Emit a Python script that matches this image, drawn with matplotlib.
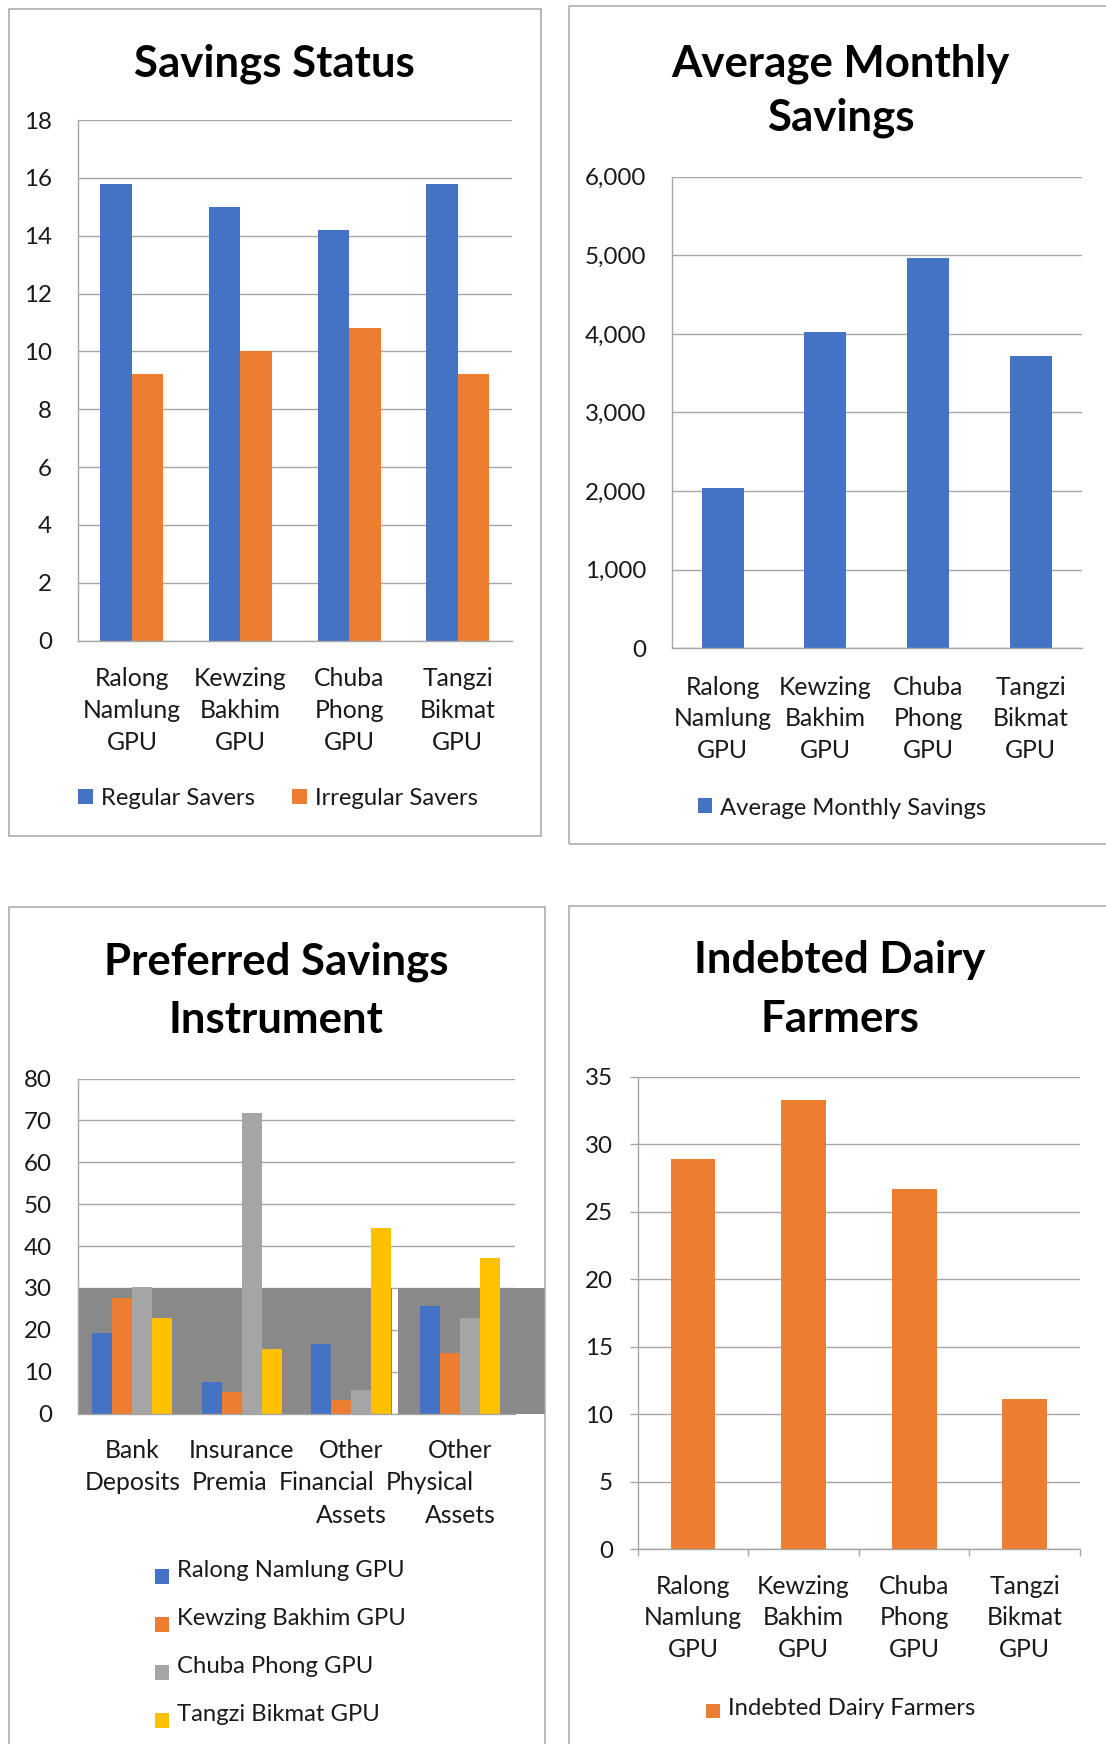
import matplotlib
matplotlib.use("Agg")
import matplotlib.pyplot as plt
from matplotlib.patches import Rectangle
from matplotlib.ticker import MultipleLocator, FuncFormatter

plt.rcParams['font.family'] = ['Lato', 'DejaVu Sans']

# ---- data -------------------------------------------------------------
gpus = ["Ralong\nNamlung\nGPU", "Kewzing\nBakhim\nGPU",
        "Chuba\nPhong\nGPU", "Tangzi\nBikmat\nGPU"]

regular_savers = [15.8, 15.0, 14.2, 15.8]
irregular_savers = [9.2, 10.0, 10.8, 9.2]

avg_monthly_savings = [2040, 4030, 4970, 3720]

instruments = ["Bank\nDeposits", "Insurance\nPremia",
               "Other\nFinancial\nAssets", "Other\nPhysical\nAssets"]
instrument_series = ["Ralong Namlung GPU", "Kewzing Bakhim GPU",
                     "Chuba Phong GPU", "Tangzi Bikmat GPU"]
ralong_pref = [19.3, 7.6, 16.6, 25.7]
kewzing_pref = [27.7, 5.1, 3.3, 14.5]
chuba_pref = [30.1, 71.8, 5.6, 22.9]
tangzi_pref = [22.9, 15.3, 44.3, 37.1]

indebted_farmers = [28.9, 33.3, 26.7, 11.1]

# ---- styling ----------------------------------------------------------
W, H, DPI = 1106, 1744, 100
BLUE, ORANGE, GREY, YELLOW = "#4472C4", "#ED7D31", "#A5A5A5", "#FFC000"
GRID = "#A6A6A6"
FRAME = "#A6A6A6"
TEXT = "#1A1A1A"
TITLE_FS = 31.5
TICK_FS = 17.4
LABEL_FS = 17.8
LEG_FS = 17.2

fig = plt.figure(figsize=(W / DPI, H / DPI), dpi=DPI)
fig.patch.set_facecolor("white")


def box(left, top, right, bottom):
    return [left / W, 1 - bottom / H, (right - left) / W, (bottom - top) / H]


def px(x, y):
    return x / W, 1 - y / H


def frame(left, top, right, bottom):
    fig.add_artist(Rectangle(px(left, bottom), (right - left) / W, (bottom - top) / H,
                             transform=fig.transFigure, fill=False,
                             ec=FRAME, lw=1.1))


def title(lines, cx, baselines):
    for line, b in zip(lines, baselines):
        fig.text(*px(cx, b), line, ha="center", va="baseline",
                 fontsize=TITLE_FS, fontweight="bold", color="black")


def legend_entry(x, top, color, label, baseline, size=14.4):
    fig.add_artist(Rectangle(px(x, top + size), size / W, size / H,
                             transform=fig.transFigure, color=color, lw=0))
    fig.text(*px(x + 22.4, baseline), label, ha="left", va="baseline",
             fontsize=LEG_FS, color=TEXT)


def style_axes(ax, ymax, step, tick_len=0.0, pad=18.4):
    ax.set_xlim(-0.5, 3.5)
    ax.set_ylim(0, ymax)
    ax.yaxis.set_major_locator(MultipleLocator(step))
    ax.grid(axis="y", color=GRID, lw=1.0)
    ax.set_axisbelow(True)
    for s in ("top", "right"):
        ax.spines[s].set_visible(False)
    for s in ("left", "bottom"):
        ax.spines[s].set_color(GRID)
        ax.spines[s].set_linewidth(1.0)
    ax.tick_params(axis="y", length=tick_len, width=1.0, color=GRID,
                   pad=pad, labelsize=TICK_FS, labelcolor=TEXT)
    ax.set_xticks([])


def category_labels(ax, labels, shifts=None, first=45, step=32):
    for i, lab in enumerate(labels):
        for j, line in enumerate(lab.split("\n")):
            dx = shifts[i] if (shifts is not None and j == 1) else 0
            ax.annotate(line, xy=(i, 0), xycoords=("data", "axes fraction"),
                        xytext=(dx, -(first + step * j)),
                        textcoords="offset pixels", ha="center",
                        va="baseline", fontsize=LABEL_FS, color=TEXT,
                        annotation_clip=False)


x = list(range(4))

# ---- Savings Status ---------------------------------------------------
frame(9, 9, 541, 836)
title(["Savings Status"], 274, [77])
ax1 = fig.add_axes(box(77.6, 120, 512, 640.5))
w1 = 0.29
ax1.bar([i - w1 / 2 for i in x], regular_savers, w1, color=BLUE, zorder=2)
ax1.bar([i + w1 / 2 for i in x], irregular_savers, w1, color=ORANGE, zorder=2)
style_axes(ax1, 18, 2)
category_labels(ax1, gpus)
legend_entry(78.3, 789.3, BLUE, "Regular Savers", 805)
legend_entry(292.3, 789.3, ORANGE, "Irregular Savers", 805)

# ---- Average Monthly Savings -----------------------------------------
frame(569, 6.5, 1112, 844)
title(["Average Monthly", "Savings"], 840.5, [76, 131])
ax2 = fig.add_axes(box(671.5, 176.7, 1082, 648.2))
ax2.bar(x, avg_monthly_savings, 0.41, color=BLUE, zorder=2)
style_axes(ax2, 6000, 1000)
ax2.yaxis.set_major_formatter(FuncFormatter(lambda v, p: f"{v:,.0f}"))
category_labels(ax2, gpus, first=46.5, step=31.5)
legend_entry(698, 798.4, BLUE, "Average Monthly Savings", 814.6)

# ---- Preferred Savings Instrument ------------------------------------
frame(9, 907.4, 545, 1760)
title(["Preferred Savings", "Instrument"], 276, [974.4, 1033])
ax3 = fig.add_axes(box(77.6, 1078.5, 515, 1413.5))
w3 = 0.183
for k, (vals, col) in enumerate(zip([ralong_pref, kewzing_pref, chuba_pref, tangzi_pref],
                                    [BLUE, ORANGE, GREY, YELLOW])):
    ax3.bar([i + (k - 1.5) * w3 for i in x], vals, w3, color=col, zorder=2,
            label=instrument_series[k])
style_axes(ax3, 80, 10)
band_a = ax3.axhspan(0, 30, xmin=0.0, xmax=0.718, color="#898989", lw=0, zorder=0.8)
band_b = ax3.axhspan(0, 30, xmin=0.7325, xmax=1.0686, color="#898989", lw=0, zorder=0.8)
band_b.set_clip_on(False)
category_labels(ax3, instruments, shifts=[0, -12, -24, -31], first=44, step=32.5)
for k, col in enumerate([BLUE, ORANGE, GREY, YELLOW]):
    legend_entry(155, 1569.3 + 48 * k, col, instrument_series[k], 1576.7 + 48 * k)

# ---- Indebted Dairy Farmers ------------------------------------------
frame(569, 906, 1112, 1760)
title(["Indebted Dairy", "Farmers"], 839.5, [972.8, 1031.6])
ax4 = fig.add_axes(box(637.7, 1076.8, 1080, 1549))
ax4.bar(x, indebted_farmers, 0.405, color=ORANGE, zorder=2)
style_axes(ax4, 35, 5, tick_len=5.8, pad=12.0)
ax4.set_xticks([-0.5, 0.5, 1.5, 2.5, 3.5])
ax4.set_xticklabels([])
ax4.tick_params(axis="x", length=5.0, width=1.0, color=GRID, direction="out")
category_labels(ax4, gpus, first=44.7, step=31.7)
legend_entry(706, 1704, ORANGE, "Indebted Dairy Farmers", 1715)

fig.savefig("out.png", dpi=DPI, facecolor="white")
